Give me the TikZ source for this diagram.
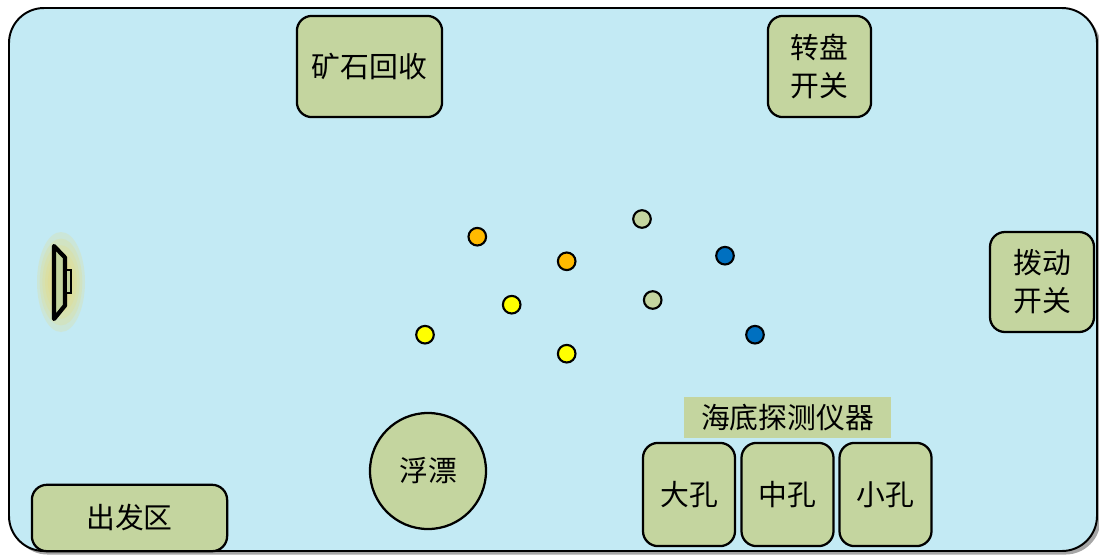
\documentclass[tikz,border=0pt]{standalone}
\usepackage{fontspec}
\newfontfamily\cjk{Noto Sans CJK SC}
\usetikzlibrary{shadows}
\definecolor{seabg}{HTML}{C3EAF4}
\definecolor{boxgreen}{HTML}{C4D59F}
\definecolor{oreorange}{HTML}{FFBA00}
\definecolor{oreyellow}{HTML}{FFFF00}
\definecolor{oreblue}{HTML}{0070C0}
\definecolor{glowcol}{HTML}{EADA78}
\tikzset{
  lbl/.style={font=\cjk\fontsize{20.5}{27}\selectfont, text=black, align=center, inner sep=0pt},
  greenbox/.style={lbl, draw=black, line width=1.6pt, fill=boxgreen, rounded corners=0.375cm},
  floatc/.style={lbl, circle, draw=black, line width=1.6pt, fill=boxgreen},
  ore/.style={circle, draw=black, line width=1.5pt, minimum size=0.44cm, inner sep=0pt},
  glow/.style={fill=glowcol, opacity=0.22},
}
\begin{document}
\begin{tikzpicture}[x=0.025cm, y=-0.025cm]
\useasboundingbox (0,0) rectangle (1099,554);
% field
\draw[fill=seabg, line width=1.4pt, rounded corners=0.875cm,
  drop shadow={shadow xshift=2.5pt, shadow yshift=-2.5pt, opacity=0.7}] (9,8) rectangle (1097,551);
% corner boxes
\node[greenbox, minimum width=3.63cm, minimum height=2.53cm] (ore) at (369.5,66.5) {矿石回收};
\node[greenbox, minimum width=2.58cm, minimum height=2.53cm] (turn) at (819.5,66.5) {转盘\\开关};
\node[greenbox, minimum width=2.6cm, minimum height=2.5cm] (toggle) at (1042,282) {拨动\\开关};
\node[greenbox, minimum width=4.88cm, minimum height=1.66cm] (start) at (129.5,518) {出发区};
\node[floatc, minimum size=2.9cm] (float) at (428,471) {浮漂};
% detector
\node[lbl, fill=boxgreen, minimum width=5.175cm, minimum height=1.025cm] (det) at (787.5,417.5) {海底探测仪器};
\node[greenbox, minimum width=2.3cm, minimum height=2.58cm] (big) at (689,494.5) {大孔};
\node[greenbox, minimum width=2.3cm, minimum height=2.58cm] (mid) at (787.5,494.5) {中孔};
\node[greenbox, minimum width=2.3cm, minimum height=2.58cm] (small) at (885.5,494.5) {小孔};
% ores
\node[ore, fill=oreorange] (o1) at (477.3,236.7) {};
\node[ore, fill=oreorange] (o2) at (566.7,261.3) {};
\node[ore, fill=oreyellow] (y1) at (511.7,304.7) {};
\node[ore, fill=oreyellow] (y2) at (425,334.7) {};
\node[ore, fill=oreyellow] (y3) at (566.7,353.7) {};
\node[ore, fill=boxgreen] (g1) at (642,219) {};
\node[ore, fill=boxgreen] (g2) at (652.7,300) {};
\node[ore, fill=oreblue] (b1) at (725,255.7) {};
\node[ore, fill=oreblue] (b2) at (755,334.7) {};
% robot with glow
\foreach \r in {1,0.85,0.7,0.55,0.4} {
  \fill[glow] (61,282) ellipse ({18*\r+6} and {44*\r+6});
}
\draw[black, line width=3pt, fill=boxgreen, line join=round] (54,246) -- (65,257.5) -- (65,305.5) -- (54,319) -- cycle;
\draw[black, line width=0.9pt, fill=boxgreen] (66.5,270) rectangle (71,293);
\end{tikzpicture}
\end{document}
